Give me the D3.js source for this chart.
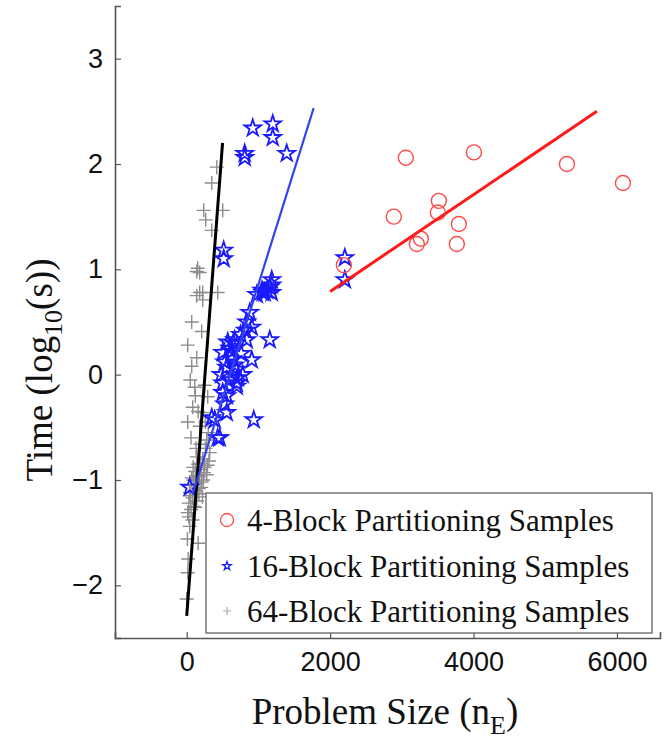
<!DOCTYPE html>
<html>
<head>
<meta charset="utf-8">
<script src="https://cdn.jsdelivr.net/npm/d3@7"></script>
<style>
  body { margin: 0; background: #fff; }
  svg { display: block; }
</style>
</head>
<body>
<div id="chart"></div>
<script>
// tick values
var xTicks = [0, 2000, 4000, 6000];
var yTicks = [-2, -1, 0, 1, 2, 3];

var seriesNames = ["4-Block Partitioning Samples", "16-Block Partitioning Samples", "64-Block Partitioning Samples"];

// 4-block samples (problem size, log10 time)
var block4X = [3056, 4005, 5302, 6083, 3516, 3502, 2888, 3795, 3265, 3209, 3767, 2191];
var block4Y = [2.06, 2.11, 2.00, 1.82, 1.65, 1.54, 1.50, 1.43, 1.29, 1.24, 1.24, 1.04];

// 16-block samples
var block16X = [921, 1200, 1200, 809, 809, 1395, 516, 516, 2205, 2205,
  1186, 1060, 1158, 1186, 1088, 977, 1186, 879, 837, 907,
  1158, 572, 670, 837, 502, 628, 907, 530, 670, 558,
  781, 712, 698, 502, 502, 530, 558, 349, 391, 935,
  460, 42, 600, 750, 640, 560, 700, 1120, 820, 600,
  480, 1050, 760, 650, 698, 432];
var block16Y = [2.34, 2.38, 2.25, 2.10, 2.06, 2.10, 1.18, 1.10, 1.11, 0.90,
  0.90, 0.78, 0.83, 0.85, 0.78, 0.76, 0.78, 0.59, 0.50, 0.45,
  0.33, 0.31, 0.33, 0.33, 0.21, 0.22, 0.14, 0.12, 0.09, 0.07,
  0.00, -0.03, -0.11, -0.08, -0.17, -0.28, -0.36, -0.41, -0.43, -0.43,
  -0.60, -1.07, 0.25, 0.38, 0.15, -0.20, 0.05, 0.80, 0.42, -0.05,
  0.00, 0.80, 0.20, 0.30, -0.08, -0.60];

// 64-block samples
var block64X = [419, 349, 237, 265, 502, 349, 153, 181, 140, 223,
  432, 140, 181, 223, 70, 209, 14, 140, 70, 112,
  293, 84, 14, 223, 181, 279, 321, 223, 160, 250,
  200, 120, 280, 180, 90, 230, 150, 60, 200, 110,
  40, 170, 80, 140, 30, 100, 60, 14, 42, 10,
  20, 15, 0, 50, 120, 160, 260, 60, 130, 250,
  310, 190, 240, 130, 70, 290, 210, 100, 170, 50,
  260, 140, 90, 220, 30, 190, 120, 80, 300, 160];
var block64Y = [1.97, 1.82, 1.56, 1.47, 1.56, 1.37, 1.01, 0.97, 0.98, 0.78,
  0.78, 0.75, 0.78, 0.71, 0.50, 0.41, 0.28, 0.16, 0.08, -0.12,
  -0.21, -0.31, -0.45, -0.36, -0.49, -0.62, -0.74, -0.80, -0.85, -0.88,
  -0.90, -0.92, -0.95, -0.97, -1.00, -1.00, -1.03, -1.05, -1.07, -1.10,
  -1.12, -1.13, -1.17, -1.20, -1.22, -1.25, -1.28, -1.31, -1.44, -1.56,
  -1.75, -1.88, -2.13, -0.05, -0.20, -0.35, -0.45, -0.60, -0.70, -0.10,
  -0.82, -0.84, -0.93, -0.96, -0.98, -0.86, -1.02, -1.04, -1.08, -1.15,
  -0.70, -0.78, -0.88, -1.16, -1.35, -0.66, -1.26, -1.38, -0.55, -1.60];

// fitted lines (end points)
var fit4X = [2000, 5720];
var fit4Y = [0.79, 2.50];
var fit16X = [80, 1770];
var fit16Y = [-1.14, 2.53];
var fit64X = [0, 500];
var fit64Y = [-2.29, 2.20];

var width = 668, height = 754;
var axisColor = "#555";

var svg = d3.select("#chart").append("svg")
  .attr("width", width)
  .attr("height", height);

var x = d3.scaleLinear().domain([-1000, 6600]).range([115, 660]);
var y = d3.scaleLinear().domain([-2.5, 3.5]).range([638, 6]);

function zip(xs, ys) {
  return xs.map(function(v, i) { return [v, ys[i]]; });
}

// axes (ticks point inward)
var xAxis = d3.axisBottom(x).tickValues(xTicks).tickSize(-6).tickPadding(14).tickFormat(d3.format("d"));
var yAxis = d3.axisLeft(y).tickValues(yTicks).tickSize(-6).tickPadding(14).tickFormat(d3.format("d"));

var gx = svg.append("g").attr("transform", "translate(0,638)").call(xAxis);
var gy = svg.append("g").attr("transform", "translate(115,0)").call(yAxis);

[gx, gy].forEach(function(g) {
  g.select(".domain").attr("stroke", axisColor).attr("stroke-width", 1.6);
  g.selectAll(".tick line").attr("stroke", axisColor).attr("stroke-width", 1.2);
  g.selectAll(".tick text")
    .attr("fill", "#111")
    .style("font-family", "'Liberation Sans', Arial, sans-serif")
    .style("font-size", "27px");
});
gy.selectAll(".tick text").attr("x", -12);

// axis titles
var xTitle = svg.append("text")
  .attr("x", 385).attr("y", 724)
  .attr("text-anchor", "middle")
  .style("font-family", "'Liberation Serif', 'Times New Roman', serif")
  .style("font-size", "37px")
  .attr("fill", "#111");
xTitle.append("tspan").text("Problem Size (n");
xTitle.append("tspan").attr("dy", 10).style("font-size", "26px").text("E");
xTitle.append("tspan").attr("dy", -10).text(")");

var yTitle = svg.append("text")
  .attr("transform", "translate(52,370) rotate(-90)")
  .attr("text-anchor", "middle")
  .style("font-family", "'Liberation Serif', 'Times New Roman', serif")
  .style("font-size", "37px")
  .attr("fill", "#111");
yTitle.append("tspan").text("Time (log");
yTitle.append("tspan").attr("dy", 10).style("font-size", "26px").text("10");
yTitle.append("tspan").attr("dy", -10).text("(s))");

// marker helpers
function plusPath(s) {
  return "M" + (-s) + ",0H" + s + "M0," + (-s) + "V" + s;
}
var starPath = d3.symbol().type(d3.symbolStar).size(85)();
var starSmall = d3.symbol().type(d3.symbolStar).size(22)();

var plot = svg.append("g");

// 64-block pluses
plot.selectAll("path.p64")
  .data(zip(block64X, block64Y))
  .enter().append("path")
  .attr("class", "p64")
  .attr("transform", function(d) { return "translate(" + x(d[0]) + "," + y(d[1]) + ")"; })
  .attr("d", plusPath(7))
  .attr("fill", "none")
  .attr("stroke", "#8c8c8c")
  .attr("stroke-width", 1.4);

// 16-block stars
plot.selectAll("path.p16")
  .data(zip(block16X, block16Y))
  .enter().append("path")
  .attr("class", "p16")
  .attr("transform", function(d) { return "translate(" + x(d[0]) + "," + y(d[1]) + ")"; })
  .attr("d", starPath)
  .attr("fill", "none")
  .attr("stroke", "#1a1aff")
  .attr("stroke-width", 1.8);

// 4-block circles
plot.selectAll("circle.p4")
  .data(zip(block4X, block4Y))
  .enter().append("circle")
  .attr("class", "p4")
  .attr("cx", function(d) { return x(d[0]); })
  .attr("cy", function(d) { return y(d[1]); })
  .attr("r", 7.5)
  .attr("fill", "none")
  .attr("stroke", "#ff4a4a")
  .attr("stroke-width", 1.4);

// fit lines
var line = d3.line().x(function(d) { return x(d[0]); }).y(function(d) { return y(d[1]); });
plot.append("path").datum(zip(fit64X, fit64Y)).attr("d", line)
  .attr("stroke", "#000").attr("stroke-width", 3).attr("fill", "none");
plot.append("path").datum(zip(fit16X, fit16Y)).attr("d", line)
  .attr("stroke", "#3344ee").attr("stroke-width", 2.2).attr("fill", "none");
plot.append("path").datum(zip(fit4X, fit4Y)).attr("d", line)
  .attr("stroke", "#ff1a1a").attr("stroke-width", 3).attr("fill", "none");

// legend
var legend = svg.append("g").attr("transform", "translate(206,493)");
legend.append("rect")
  .attr("width", 446).attr("height", 140)
  .attr("fill", "#fff")
  .attr("stroke", axisColor)
  .attr("stroke-width", 1.2);

var rowY = [27, 73, 118];
legend.selectAll("text")
  .data(seriesNames)
  .enter().append("text")
  .attr("x", 41)
  .attr("y", function(d, i) { return rowY[i] + 11; })
  .style("font-family", "'Liberation Serif', 'Times New Roman', serif")
  .style("font-size", "31px")
  .attr("fill", "#111")
  .text(function(d) { return d; });

legend.append("circle").attr("cx", 21).attr("cy", rowY[0])
  .attr("r", 6.5).attr("fill", "none").attr("stroke", "#ff4a4a").attr("stroke-width", 1.3);
legend.append("path").attr("transform", "translate(21," + rowY[1] + ")")
  .attr("d", starSmall).attr("fill", "none").attr("stroke", "#1a1aff").attr("stroke-width", 1.3);
legend.append("path").attr("transform", "translate(21," + rowY[2] + ")")
  .attr("d", plusPath(4)).attr("fill", "none").attr("stroke", "#aaa").attr("stroke-width", 1.2);
</script>
</body>
</html>
